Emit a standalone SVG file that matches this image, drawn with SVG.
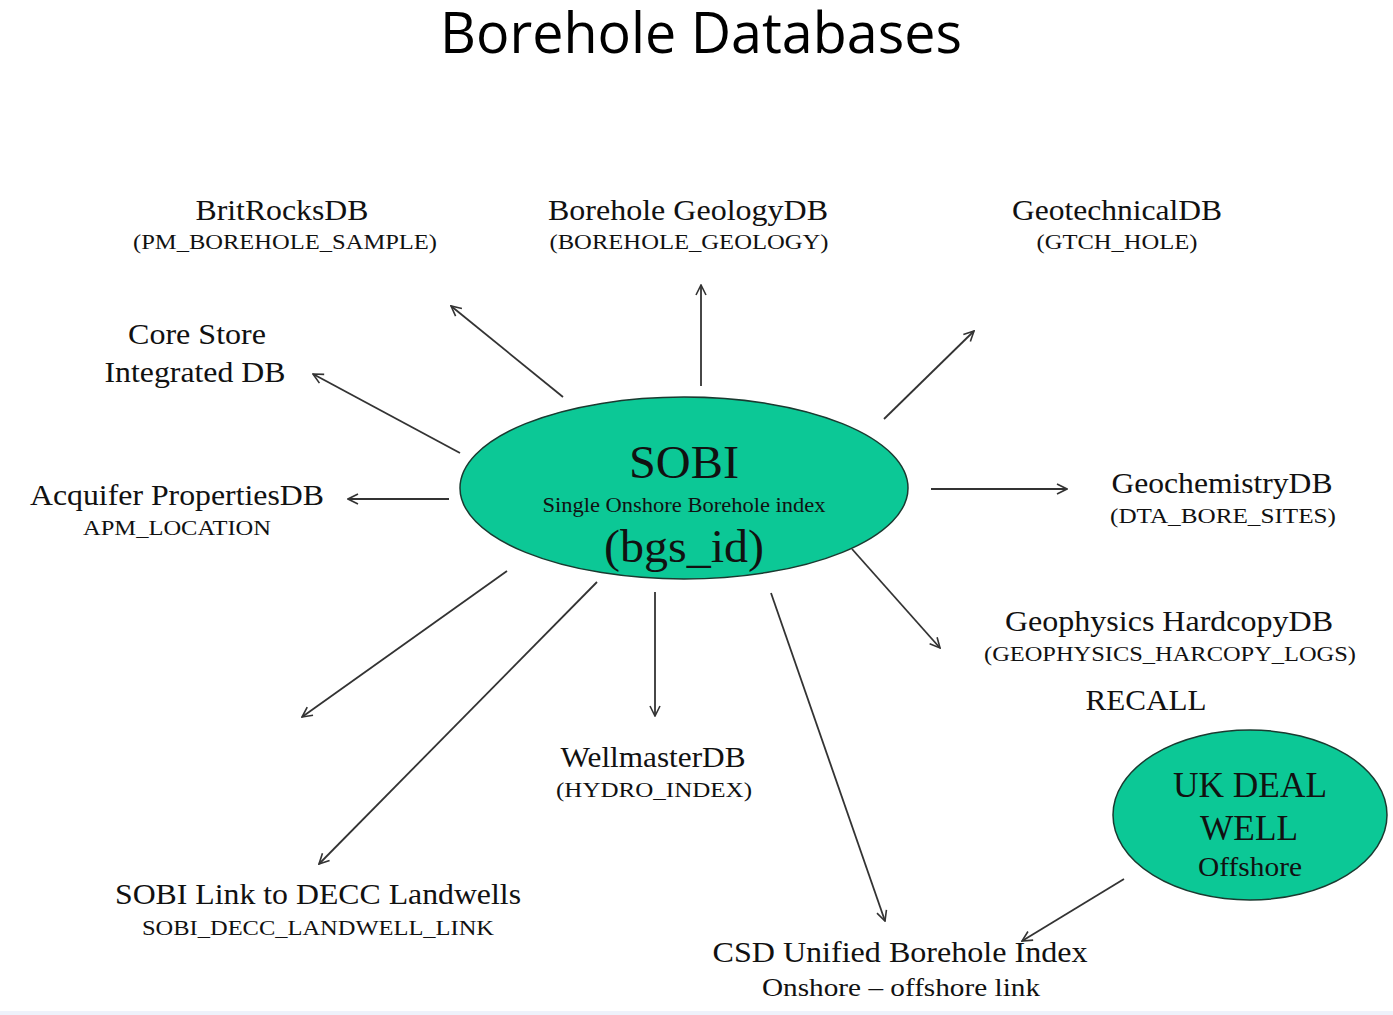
<svg xmlns="http://www.w3.org/2000/svg" width="1393" height="1015" viewBox="0 0 1393 1015">
<defs>
<marker id="arr" viewBox="0 0 12 12" refX="11" refY="6" markerWidth="12" markerHeight="12" markerUnits="userSpaceOnUse" orient="auto">
<path d="M1,1 L11,6 L1,11" fill="none" stroke="#333" stroke-width="1.6"/>
</marker>
<style>
.t{font-family:"Liberation Serif","Times New Roman",serif;fill:#111;text-anchor:middle}
.big{font-size:30px}
.sm{font-size:22px}
.title{font-family:"Open Sans","Noto Sans",sans-serif;font-size:56px;fill:#000;text-anchor:middle}
.ell{fill:#0CC896;stroke:#1a3a30;stroke-width:1.5}
.c line{stroke:#333;stroke-width:1.8;marker-end:url(#arr)}
</style>
</defs>
<rect x="0" y="0" width="1393" height="1015" fill="#fff"/>
<rect x="0" y="1011" width="1393" height="4" fill="#eef2fb"/>
<text class="title" x="701" y="53" textLength="522" lengthAdjust="spacingAndGlyphs">Borehole Databases</text>

<g id="sobi">
<ellipse class="ell" cx="684" cy="488" rx="224" ry="91"/>
<text class="t" x="684" y="478" font-size="46" textLength="110" lengthAdjust="spacingAndGlyphs">SOBI</text>
<text class="t sm" x="684" y="512" textLength="283" lengthAdjust="spacingAndGlyphs">Single Onshore Borehole index</text>
<text class="t" x="684" y="562" font-size="46" textLength="160" lengthAdjust="spacingAndGlyphs">(bgs_id)</text>
</g>
<g id="ukdeal">
<ellipse class="ell" cx="1250" cy="815" rx="137" ry="85"/>
<text class="t" x="1250" y="797" font-size="36" textLength="154" lengthAdjust="spacingAndGlyphs">UK DEAL</text>
<text class="t" x="1249" y="840" font-size="36" textLength="98" lengthAdjust="spacingAndGlyphs">WELL</text>
<text class="t" x="1250" y="876" font-size="27" textLength="104" lengthAdjust="spacingAndGlyphs">Offshore</text>
</g>
<g id="britrocks">
<text class="t big" x="282" y="220" textLength="173" lengthAdjust="spacingAndGlyphs">BritRocksDB</text>
<text class="t sm" x="285" y="249" textLength="304" lengthAdjust="spacingAndGlyphs">(PM_BOREHOLE_SAMPLE)</text>
</g>
<g id="geology">
<text class="t big" x="688" y="220" textLength="280" lengthAdjust="spacingAndGlyphs">Borehole GeologyDB</text>
<text class="t sm" x="689" y="249" textLength="279" lengthAdjust="spacingAndGlyphs">(BOREHOLE_GEOLOGY)</text>
</g>
<g id="geotech">
<text class="t big" x="1117" y="220" textLength="210" lengthAdjust="spacingAndGlyphs">GeotechnicalDB</text>
<text class="t sm" x="1117" y="249" textLength="161" lengthAdjust="spacingAndGlyphs">(GTCH_HOLE)</text>
</g>
<g id="corestore">
<text class="t big" x="197" y="344" textLength="138" lengthAdjust="spacingAndGlyphs">Core Store</text>
<text class="t big" x="195" y="382" textLength="181" lengthAdjust="spacingAndGlyphs">Integrated DB</text>
</g>
<g id="acquifer">
<text class="t big" x="177" y="505" textLength="294" lengthAdjust="spacingAndGlyphs">Acquifer PropertiesDB</text>
<text class="t sm" x="177" y="535" textLength="188" lengthAdjust="spacingAndGlyphs">APM_LOCATION</text>
</g>
<g id="geochem">
<text class="t big" x="1222" y="493" textLength="221" lengthAdjust="spacingAndGlyphs">GeochemistryDB</text>
<text class="t sm" x="1223" y="523" textLength="226" lengthAdjust="spacingAndGlyphs">(DTA_BORE_SITES)</text>
</g>
<g id="geophys">
<text class="t big" x="1169" y="631" textLength="328" lengthAdjust="spacingAndGlyphs">Geophysics HardcopyDB</text>
<text class="t sm" x="1170" y="661" textLength="372" lengthAdjust="spacingAndGlyphs">(GEOPHYSICS_HARCOPY_LOGS)</text>
<text class="t big" x="1146" y="710" textLength="121" lengthAdjust="spacingAndGlyphs">RECALL</text>
</g>
<g id="wellmaster">
<text class="t big" x="653" y="767" textLength="185" lengthAdjust="spacingAndGlyphs">WellmasterDB</text>
<text class="t sm" x="654" y="797" textLength="196" lengthAdjust="spacingAndGlyphs">(HYDRO_INDEX)</text>
</g>
<g id="decc">
<text class="t big" x="318" y="904" textLength="406" lengthAdjust="spacingAndGlyphs">SOBI Link to DECC Landwells</text>
<text class="t sm" x="318" y="935" textLength="352" lengthAdjust="spacingAndGlyphs">SOBI_DECC_LANDWELL_LINK</text>
</g>
<g id="csd">
<text class="t big" x="900" y="962" textLength="375" lengthAdjust="spacingAndGlyphs">CSD Unified Borehole Index</text>
<text class="t" x="901" y="996" font-size="26" textLength="278" lengthAdjust="spacingAndGlyphs">Onshore – offshore link</text>
</g>

<g id="connectors" class="c">
<line x1="563" y1="397" x2="451" y2="306"/>
<line x1="701" y1="386" x2="701" y2="285"/>
<line x1="884" y1="419" x2="974" y2="331"/>
<line x1="460" y1="453" x2="313" y2="374"/>
<line x1="449" y1="499" x2="348" y2="499"/>
<line x1="931" y1="489" x2="1067" y2="489"/>
<line x1="852" y1="549" x2="940" y2="648"/>
<line x1="507" y1="571" x2="302" y2="717"/>
<line x1="597" y1="582" x2="319" y2="864"/>
<line x1="655" y1="592" x2="655" y2="716"/>
<line x1="771" y1="593" x2="885" y2="921"/>
<line x1="1124" y1="879" x2="1022" y2="941"/>
</g>
</svg>
